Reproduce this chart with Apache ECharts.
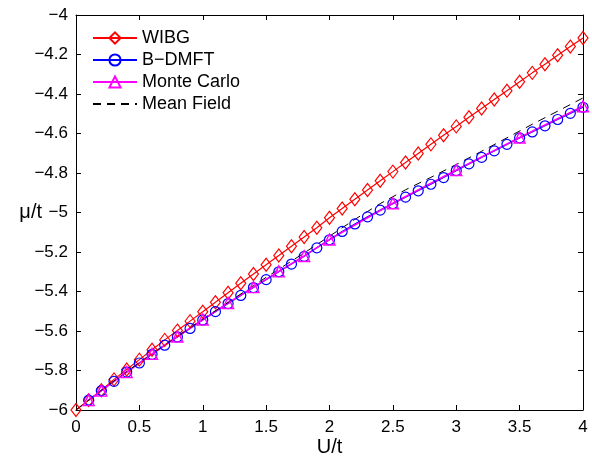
<!DOCTYPE html>
<html>
<head>
<meta charset="utf-8">
<script src="https://cdn.jsdelivr.net/npm/echarts@6/dist/echarts.min.js"></script>
<style>html,body{margin:0;padding:0;background:#fff}#c{width:592px;height:462px}</style>
</head>
<body>
<div id="c"></div>
<script>
// ---- data ----
const seriesNames = ['WIBG', 'B\u2212DMFT', 'Monte Carlo', 'Mean Field'];

const wibgU = [0,0.1,0.2,0.3,0.4,0.5,0.6,0.7,0.8,0.9,1.0,1.1,1.2,1.3,1.4,1.5,1.6,1.7,1.8,1.9,2.0,2.1,2.2,2.3,2.4,2.5,2.6,2.7,2.8,2.9,3.0,3.1,3.2,3.3,3.4,3.5,3.6,3.7,3.8,3.9,4.0];
const wibgMu = [-6.000,-5.950,-5.900,-5.845,-5.795,-5.745,-5.695,-5.645,-5.598,-5.550,-5.502,-5.454,-5.406,-5.358,-5.311,-5.265,-5.218,-5.171,-5.124,-5.077,-5.027,-4.980,-4.933,-4.886,-4.839,-4.793,-4.747,-4.701,-4.655,-4.609,-4.564,-4.518,-4.473,-4.428,-4.383,-4.338,-4.293,-4.249,-4.204,-4.160,-4.116];

const dmftU = [0.1,0.2,0.3,0.4,0.5,0.6,0.7,0.8,0.9,1.0,1.1,1.2,1.3,1.4,1.5,1.6,1.7,1.8,1.9,2.0,2.1,2.2,2.3,2.4,2.5,2.6,2.7,2.8,2.9,3.0,3.1,3.2,3.3,3.4,3.5,3.6,3.7,3.8,3.9,4.0];
const dmftMu = [-5.950,-5.902,-5.855,-5.808,-5.762,-5.718,-5.672,-5.630,-5.587,-5.544,-5.502,-5.461,-5.420,-5.380,-5.340,-5.300,-5.261,-5.222,-5.179,-5.138,-5.096,-5.058,-5.022,-4.988,-4.955,-4.922,-4.890,-4.857,-4.823,-4.788,-4.754,-4.721,-4.688,-4.655,-4.622,-4.592,-4.561,-4.529,-4.498,-4.467];

const mcU = [0.1,0.2,0.4,0.6,0.8,1.0,1.2,1.4,1.6,1.8,2.0,2.5,3.0,3.5,4.0];
const mcMu = [-5.950,-5.902,-5.808,-5.716,-5.628,-5.542,-5.458,-5.378,-5.298,-5.220,-5.137,-4.953,-4.785,-4.620,-4.462];

const mfU = [0,0.2,0.4,0.6,0.8,1.0,1.2,1.4,1.6,1.8,2.0,2.2,2.4,2.6,2.8,3.0,3.2,3.4,3.6,3.8,4.0];
const mfMu = [-6.000,-5.900,-5.806,-5.715,-5.627,-5.540,-5.455,-5.370,-5.287,-5.205,-5.120,-5.035,-4.955,-4.885,-4.822,-4.757,-4.690,-4.622,-4.553,-4.487,-4.420];

const xTicks = [0,0.5,1,1.5,2,2.5,3,3.5,4];
const xTickLabels = ['0','0.5','1','1.5','2','2.5','3','3.5','4'];
const yTicks = [-6,-5.8,-5.6,-5.4,-5.2,-5,-4.8,-4.6,-4.4,-4.2,-4];
const yTickLabels = ['\u22126','\u22125.8','\u22125.6','\u22125.4','\u22125.2','\u22125','\u22124.8','\u22124.6','\u22124.4','\u22124.2','\u22124'];
const xTitle = 'U/t';
const yTitle = '\u03bc/t';

// ---- helpers ----
const pairs = (a, b) => a.map((u, i) => [u, b[i]]);
const lookup = (ticks, labels) => v => {
  for (let i = 0; i < ticks.length; i++) if (Math.abs(ticks[i] - v) < 1e-6) return labels[i];
  return '';
};
const FONT = 'Liberation Sans, Arial, Helvetica, sans-serif';
const axisLine = { show: true, onZero: false, lineStyle: { color: '#000', width: 1 } };
const tick = { show: true, inside: true, length: 5, lineStyle: { color: '#000', width: 1 } };
const CLEAR = 'rgba(255,255,255,0)';

const chart = echarts.init(document.getElementById('c'), null, { renderer: 'canvas' });
chart.setOption({
  backgroundColor: '#fff',
  animation: false,
  textStyle: { fontFamily: FONT },
  grid: { left: 76, right: 9, top: 15, bottom: 47, containLabel: false },
  legend: {
    orient: 'vertical', left: 92, top: 29, padding: 0, itemWidth: 44, itemHeight: 14, itemGap: 4,
    textStyle: { fontFamily: FONT, fontSize: 18, color: '#000' },
    data: [
      { name: seriesNames[0] },
      { name: seriesNames[1] },
      { name: seriesNames[2] },
      { name: seriesNames[3], itemStyle: { color: CLEAR, borderColor: CLEAR, borderWidth: 0 } }
    ]
  },
  xAxis: [
    { type: 'value', min: 0, max: 4, interval: 0.5, position: 'bottom',
      axisLine, axisTick: tick, splitLine: { show: false },
      axisLabel: { formatter: lookup(xTicks, xTickLabels), fontSize: 17, color: '#000', margin: 9, fontFamily: FONT },
      name: xTitle, nameLocation: 'middle', nameGap: 27, nameMoveOverlap: false,
      nameTextStyle: { fontSize: 20, color: '#000', fontFamily: FONT } },
    { type: 'value', min: 0, max: 4, interval: 0.5, position: 'top',
      axisLine, axisTick: tick, splitLine: { show: false }, axisLabel: { show: false } }
  ],
  yAxis: [
    { type: 'value', min: -6, max: -4, interval: 0.2, position: 'left',
      axisLine, axisTick: tick, splitLine: { show: false },
      axisLabel: { formatter: lookup(yTicks, yTickLabels), fontSize: 17, color: '#000', margin: 8, fontFamily: FONT },
      name: yTitle, nameLocation: 'middle', nameGap: 34, nameRotate: 0, nameMoveOverlap: false,
      nameTextStyle: { fontSize: 20, color: '#000', fontFamily: FONT } },
    { type: 'value', min: -6, max: -4, interval: 0.2, position: 'right',
      axisLine, axisTick: tick, splitLine: { show: false }, axisLabel: { show: false } }
  ],
  series: [
    { name: seriesNames[0], type: 'line', data: pairs(wibgU, wibgMu), color: '#ff0000',
      symbol: 'diamond', symbolSize: [10, 13], showAllSymbol: true,
      itemStyle: { color: CLEAR, borderColor: '#ff0000', borderWidth: 1.2 },
      lineStyle: { color: '#ff0000', width: 1.2 } },
    { name: seriesNames[1], type: 'line', data: pairs(dmftU, dmftMu), color: '#0000ff',
      symbol: 'circle', symbolSize: 10, showAllSymbol: true,
      itemStyle: { color: CLEAR, borderColor: '#0000ff', borderWidth: 1.2 },
      lineStyle: { color: '#0000ff', width: 1.2 } },
    { name: seriesNames[2], type: 'line', data: pairs(mcU, mcMu), color: '#ff00ff',
      symbol: 'triangle', symbolSize: 11, showAllSymbol: true,
      itemStyle: { color: CLEAR, borderColor: '#ff00ff', borderWidth: 1.4 },
      lineStyle: { color: '#ff00ff', width: 1.6 } },
    { name: seriesNames[3], type: 'line', data: pairs(mfU, mfMu), color: '#000000',
      symbol: 'none',
      itemStyle: { color: '#000' },
      lineStyle: { color: '#000', width: 1, type: [8, 6] } }
  ]
});
</script>
</body>
</html>
